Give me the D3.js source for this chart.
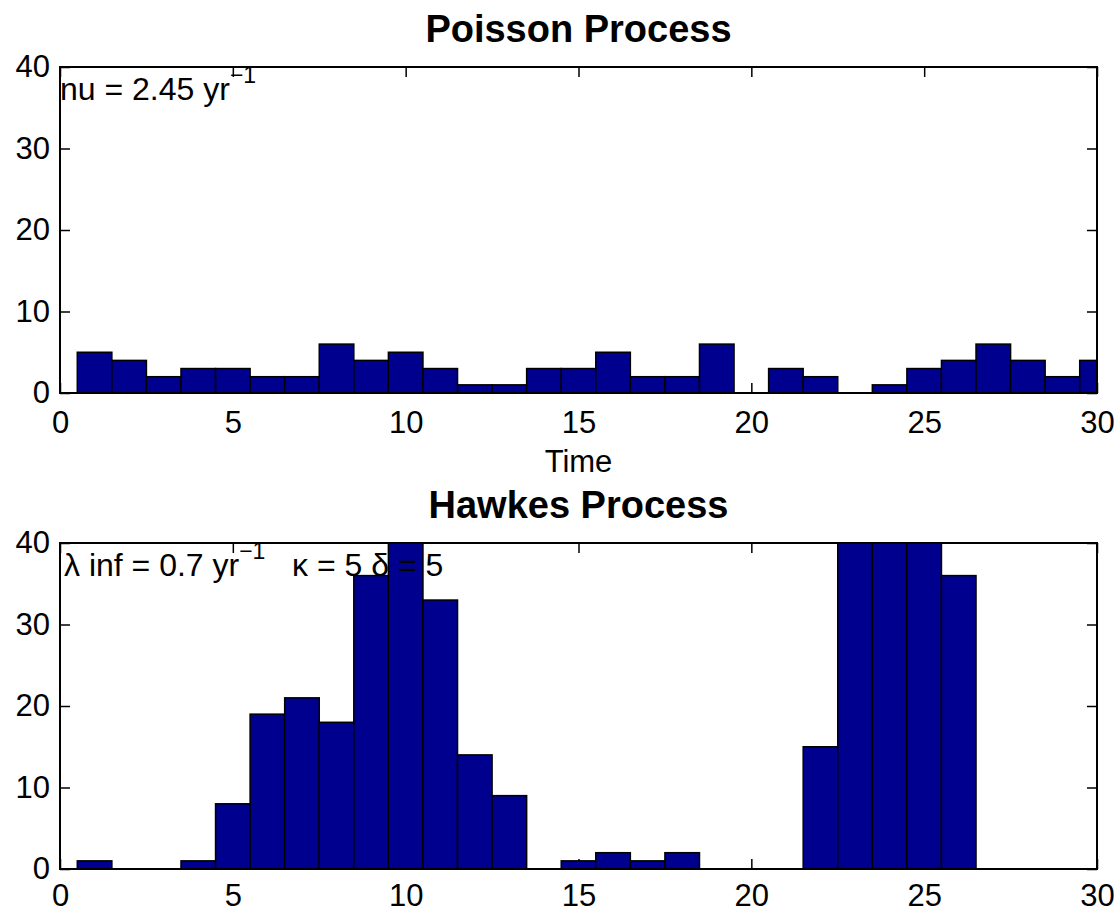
<!DOCTYPE html>
<html>
<head>
<meta charset="utf-8">
<script src="https://cdn.jsdelivr.net/npm/d3@7"></script>
<style>
  html, body { margin: 0; padding: 0; background: #fff; }
  svg { display: block; font-family: "Liberation Sans", Arial, Helvetica, sans-serif; }
</style>
</head>
<body>
<svg id="fig" width="1120" height="912"></svg>
<script>
// Histogram bin centres (one-year bins) and event counts per bin
const binCenters = d3.range(1, 31);
const poissonCounts = [5, 4, 2, 3, 3, 2, 2, 6, 4, 5, 3, 1, 1, 3, 3, 5, 2, 2, 6, 0, 3, 2, 0, 1, 3, 4, 6, 4, 2, 4];
const hawkesCounts  = [1, 0, 0, 1, 8, 19, 21, 18, 36, 45, 33, 14, 9, 0, 1, 2, 1, 2, 0, 0, 0, 15, 52, 49, 46, 36, 0, 0, 0, 0];

const xTicks = [0, 5, 10, 15, 20, 25, 30];
const yTicks = [0, 10, 20, 30, 40];
const xDomain = [0, 30];
const yDomain = [0, 40];

const panelTitles = ["Poisson Process", "Hawkes Process"];
const xLabelText = "Time";

const svg = d3.select("#fig");
const barFill = "#00008f";
const left = 60, right = 1097;
const tickFont = 31;

const panels = [
  { top: 67,  bottom: 393, counts: poissonCounts, title: panelTitles[0], xlabel: xLabelText, pad: 18 },
  { top: 543, bottom: 869, counts: hawkesCounts,  title: panelTitles[1], xlabel: null, pad: 15 }
];

panels.forEach((p, i) => {
  const x = d3.scaleLinear().domain(xDomain).range([left, right]);
  const y = d3.scaleLinear().domain(yDomain).range([p.bottom, p.top]);
  const g = svg.append("g");

  // inward ticks on all four sides, drawn beneath the bars
  const axB = d3.axisBottom(x).tickValues(xTicks).tickSizeInner(-10).tickSizeOuter(0).tickPadding(p.pad);
  const axT = d3.axisTop(x).tickValues(xTicks).tickSizeInner(-10).tickSizeOuter(0).tickFormat("");
  const axL = d3.axisLeft(y).tickValues(yTicks).tickSizeInner(-10).tickSizeOuter(0).tickPadding(10);
  const axR = d3.axisRight(y).tickValues(yTicks).tickSizeInner(-10).tickSizeOuter(0).tickFormat("");

  [[axB, `translate(0,${p.bottom})`], [axT, `translate(0,${p.top})`],
   [axL, `translate(${left},0)`], [axR, `translate(${right},0)`]].forEach(([ax, tr]) => {
    const a = g.append("g").attr("transform", tr).call(ax);
    a.select(".domain").remove();
    a.selectAll(".tick line").attr("stroke", "#000").attr("stroke-width", 1.5);
    a.selectAll(".tick text")
      .attr("fill", "#000")
      .style("font-size", tickFont + "px")
      .style("font-family", '"Liberation Sans", Arial, sans-serif');
  });

  // clip bars to the plotting box
  const clipId = "clip" + i;
  svg.append("clipPath").attr("id", clipId)
    .append("rect")
    .attr("x", left).attr("y", p.top)
    .attr("width", right - left).attr("height", p.bottom - p.top);

  g.append("g").attr("clip-path", `url(#${clipId})`)
    .selectAll("rect")
    .data(binCenters.map((c, k) => ({ c, v: p.counts[k] })))
    .join("rect")
    .attr("x", d => x(d.c - 0.5))
    .attr("width", d => x(d.c + 0.5) - x(d.c - 0.5))
    .attr("y", d => y(d.v))
    .attr("height", d => y(0) - y(d.v))
    .attr("fill", barFill)
    .attr("stroke", "#000")
    .attr("stroke-width", 1.5);

  // axes box
  g.append("rect")
    .attr("x", left).attr("y", p.top)
    .attr("width", right - left).attr("height", p.bottom - p.top)
    .attr("fill", "none").attr("stroke", "#000").attr("stroke-width", 2);

  // title
  g.append("text")
    .attr("x", (left + right) / 2).attr("y", p.top - 25)
    .attr("text-anchor", "middle")
    .style("font-size", "38px").style("font-weight", "bold")
    .text(p.title);

  if (p.xlabel) {
    g.append("text")
      .attr("x", (left + right) / 2).attr("y", p.bottom + 79)
      .attr("text-anchor", "middle")
      .style("font-size", tickFont + "px")
      .text(p.xlabel);
  }
});

// rate annotations in the upper-left corner of each panel
const ann1 = svg.append("text").attr("x", 60).attr("y", 100).style("font-size", "32px");
ann1.append("tspan").text("nu = 2.45 yr");
ann1.append("tspan").attr("dy", -17).style("font-size", "23px").text("\u22121");

const ann2 = svg.append("text").attr("x", 64).attr("y", 576).style("font-size", "32px");
ann2.append("tspan").text("λ inf = 0.7 yr");
ann2.append("tspan").attr("dy", -17).style("font-size", "23px").text("\u22121");
ann2.append("tspan").attr("dy", 17).text("\u00a0\u00a0\u00a0κ = 5 δ = 5");
</script>
</body>
</html>
